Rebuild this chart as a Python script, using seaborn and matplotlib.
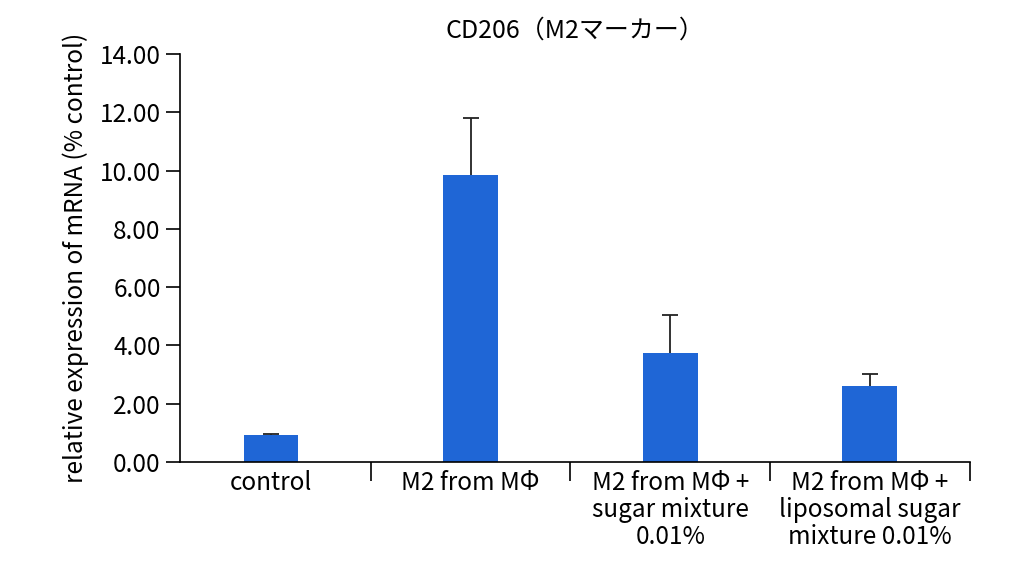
import matplotlib
matplotlib.use("Agg")
import matplotlib.pyplot as plt
import seaborn as sns
import pandas as pd
import numpy as np

categories = ["control", "M2 from MΦ", "M2 from MΦ +\nsugar mixture\n0.01%", "M2 from MΦ +\nliposomal sugar\nmixture 0.01%"]
values = [0.92, 9.85, 3.75, 2.60]
errors = [0.05, 1.95, 1.30, 0.42]
yticks = [0, 2, 4, 6, 8, 10, 12, 14]

plt.rcParams["font.family"] = "Noto Sans CJK JP"
fig = plt.figure(figsize=(10.24, 5.76), dpi=100)
ax = fig.add_axes([0.176, 0.198, 0.771, 0.708])
df = pd.DataFrame({"cat": categories, "val": values})
sns.barplot(data=df, x="cat", y="val", color="#1f66d6", saturation=1, width=0.275, ax=ax, errorbar=None)
x = np.arange(len(categories))
eb = ax.errorbar(x, values, yerr=[np.zeros(len(errors)), errors], fmt="none", ecolor="#222222",
                 elinewidth=1.3, capsize=6, capthick=1.3)
eb[1][0].set_visible(False)
ax.set_xlim(-0.455, 3.5)
ax.set_ylim(0, 14)
ax.set_yticks(yticks)
ax.set_yticklabels([f"{v:.2f}" for v in yticks], fontsize=17.5)
ax.set_xticks(x)
ax.set_xticklabels(categories, fontsize=17.5, linespacing=1.05)
ax.tick_params(axis="x", length=0, pad=6)
ax.set_xticks([0.5, 1.5, 2.5, 3.5], minor=True)
ax.tick_params(axis="x", which="minor", length=14, direction="out", width=1.2)
ax.tick_params(axis="y", length=10, width=1.2, direction="out", pad=4)
for s in ["top", "right"]:
    ax.spines[s].set_visible(False)
for s in ["left", "bottom"]:
    ax.spines[s].set_linewidth(1.2)
ax.set_xlabel("")
ax.set_ylabel("relative expression of mRNA (% control)", fontsize=17.5, labelpad=8)
ax.set_title("CD206（M2マーカー）", fontsize=18, pad=12)
fig.savefig("out.png", dpi=100)
